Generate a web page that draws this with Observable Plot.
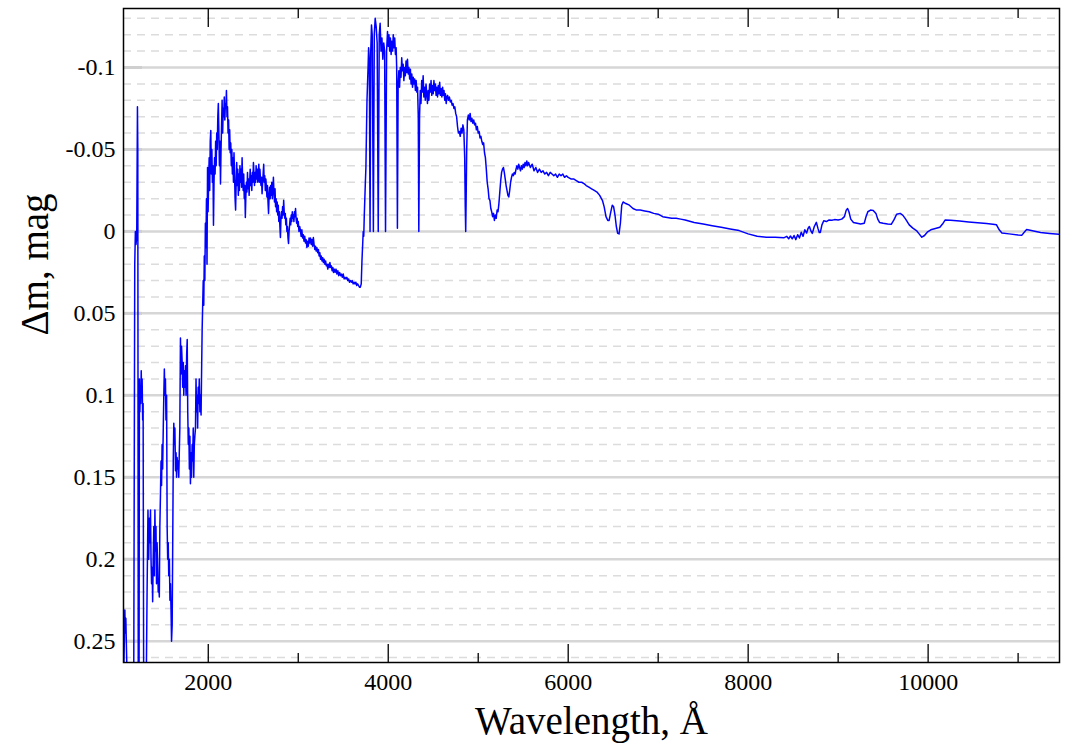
<!DOCTYPE html>
<html><head><meta charset="utf-8">
<script src="https://cdn.jsdelivr.net/npm/d3@7"></script>
<script src="https://cdn.jsdelivr.net/npm/@observablehq/plot@0.6"></script>
<style>body{margin:0;background:#fff}</style>
</head><body><div id="chart"></div>
<script>
// Wavelength (Å) and Δm (mag), in segments
const wlUV = [1060,1068,1073,1078,1084,1090,1097,1172,1183,1190,1197,1205,1213,1217,1222,1231,1235,1240,1245,1250,1255,1260,1265,1271,1276,1282,1312];
const dmUV = [0.27,0.248,0.231,0.245,0.236,0.252,0.27,0.27,0.02,0.0,0.008,0.003,-0.076,-0.05,0.27,0.27,0.09,0.11,0.095,0.105,0.085,0.1,0.09,0.115,0.105,0.27,0.27];

const wlFUV = [
1320,1330,1338,1346,1352,1358,1364,1370,1376,1382,
1388,1395,1401,1407,1413,1419,1425,1431,1438,1444,
1450,1456,1462,1469,1475,1481,1487,1493,1500,1506,
1512,1518,1524,1530,1537,1543,1549,1555,1561,1568,
1574,1580,1586,1592,1599,1605,1611,1617,1623,1629,
1636,1642,1648,1654,1660,1666,1672,1678,1684,1691,
1697,1703,1710,1716,1722,1728,1734,1740,1747,1753,
1760,1766,1772,1778,1784,1790,1796,1802,1808,1814,
1821,1827,1833,1839,1845,1851,1858,1864,1870,1876,
1882,1888,1894,1900,1907,1914,1920,1926,1932,1938,
1944,1950,1956,1962,1968,1974,1980];
const dmFUV = [
0.22,0.17,0.2,0.175,0.19,0.17,0.2,0.215,0.205,0.226,
0.2,0.18,0.21,0.17,0.195,0.18,0.215,0.19,0.205,0.22,
0.215,0.223,0.18,0.16,0.14,0.155,0.13,0.145,0.12,0.1,
0.084,0.1,0.09,0.115,0.1,0.18,0.2,0.19,0.21,0.2,
0.225,0.215,0.23,0.25,0.24,0.19,0.14,0.117,0.13,0.12,
0.146,0.135,0.15,0.138,0.145,0.14,0.15,0.135,0.12,0.065,
0.087,0.07,0.08,0.095,0.08,0.1,0.085,0.095,0.082,0.1,
0.075,0.066,0.11,0.13,0.12,0.145,0.125,0.154,0.135,0.15,
0.13,0.14,0.12,0.15,0.13,0.125,0.12,0.09,0.11,0.1,
0.12,0.095,0.105,0.09,0.11,0.1,0.112,0.085,0.06,0.045,
0.03,0.045,0.015,0.03,-0.005,0.01,-0.02];

const wlNUV = [
1986,1992,1998,2004,2010,2016,2022,2028,2034,2040,
2046,2052,2058,2064,2070,2076,2082,2088,2094,2100,
2106,2112,2118,2124,2130,2136,2142,2148,2154,2160,
2166,2172,2178,2184,2190,2196,2202,2208,2214,2220,
2226,2232,2238,2244,2250,2256,2262,2268,2274,2280,
2286,2292,2298,2304,2310,2316,2322,2328,2334,2340,
2346,2352,2358,2364,2370,2376,2382,2388,2394,2400,
2406,2412,2418,2424,2430,2436,2442,2448,2454,2460,
2466,2472,2478,2484,2490,2496,2502,2508,2514,2520,
2526,2532,2538,2544,2550,2556,2562,2568,2574,2580,
2586,2592,2598,2604,2610,2616,2622,2628,2634,2640,
2646,2652,2658,2664,2670,2676,2682,2688,2694,2700,
2706,2712,2718,2724,2730,2736,2742,2748,2754,2760,
2766,2772,2778,2784,2790,2796,2802,2808,2814,2820,
2826,2832,2838,2844,2850,2856,2862,2868,2874,2880,
2886,2892,2898,2904,2910,2916,2922,2928,2934,2940,
2946,2952,2958,2964,2970,2976,2982,2988,2994,3000];
const dmNUV = [
0.02,-0.039,-0.012,-0.03,-0.045,-0.025,-0.055,-0.0616,-0.035,-0.05,
-0.03,-0.04,-0.0037,-0.03,-0.045,-0.035,-0.055,-0.04,-0.06,-0.05,
-0.07,-0.078,-0.06,-0.04,-0.055,-0.029,-0.05,-0.065,-0.08,-0.06,
-0.075,-0.07,-0.082,-0.068,-0.078,-0.075,-0.086,-0.07,-0.076,-0.06,
-0.068,-0.05,-0.062,-0.048,-0.054,-0.04,-0.05,-0.035,-0.045,-0.03,
-0.048,-0.035,-0.02,-0.013,-0.03,-0.042,-0.028,-0.038,-0.022,-0.035,
-0.025,-0.04,-0.03,-0.038,-0.027,-0.045,-0.032,-0.025,-0.035,-0.02,
-0.028,-0.0085,-0.022,-0.03,-0.024,-0.036,-0.026,-0.032,-0.022,-0.03,
-0.038,-0.028,-0.034,-0.025,-0.036,-0.03,-0.042,-0.035,-0.028,-0.036,
-0.03,-0.04,-0.032,-0.038,-0.03,-0.036,-0.041,-0.03,-0.038,-0.032,
-0.028,-0.033,-0.023,-0.03,-0.035,-0.041,-0.03,-0.034,-0.025,-0.032,
-0.027,-0.021,-0.028,-0.018,-0.011,-0.022,-0.027,-0.02,-0.028,-0.022,
-0.03,-0.02,-0.026,-0.033,-0.024,-0.018,-0.026,-0.015,-0.02,-0.012,
-0.018,-0.01,-0.016,-0.006,-0.012,-0.003,0.0037,-0.008,-0.012,-0.008,
-0.015,-0.01,-0.019,-0.012,-0.008,-0.011,-0.004,-0.008,0.0,-0.003,
0.004,0.0073,0.0,-0.004,-0.008,-0.004,-0.01,-0.006,-0.012,-0.008,
-0.01,-0.006,-0.012,-0.009,-0.014,-0.008,-0.005,-0.008,-0.003,-0.006];

const wlBlue = [
3008,3016,3024,3032,3040,3048,3056,3064,3072,3080,
3088,3096,3104,3112,3120,3128,3136,3144,3152,3160,
3168,3176,3184,3192,3200,3208,3216,3224,3232,3240,
3248,3256,3264,3272,3280,3288,3296,3304,3312,3320,
3328,3336,3344,3352,3360,3368,3376,3384,3392,3400,
3410,3420,3430,3440,3450,3460,3470,3480,3490,3500,
3510,3520,3530,3540,3550,3560,3570,3580,3590,3600,
3610,3620,3630,3640,3650,3660,3670,3680,3690,3700];
const dmBlue = [
0.0,-0.003,-0.0006,0.003,-0.001,0.004,0.002,0.006,0.003,0.007,
0.005,0.0098,0.006,0.009,0.004,0.007,0.004,0.008,0.005,0.009,
0.0037,0.008,0.011,0.009,0.012,0.01,0.013,0.011,0.015,0.013,
0.017,0.015,0.018,0.016,0.019,0.017,0.02,0.018,0.021,0.02,
0.023,0.02,0.022,0.019,0.022,0.021,0.024,0.022,0.025,0.023,
0.025,0.023,0.026,0.024,0.027,0.025,0.027,0.026,0.028,0.026,
0.029,0.028,0.029,0.028,0.03,0.029,0.031,0.03,0.031,0.03,
0.032,0.031,0.032,0.031,0.033,0.032,0.033,0.034,0.034,0.032];

const wlBalmer = [
3708,3716,3722,3728,3734,3740,3746,3752,3758,3764,
3770,3776,3782,3790,3798,3806,3814,3822,3835,3845,
3855,3866,3877,3889,3900,3910,3920,3930,3940,3950,
3960,3970,3982,3992,4000,4008,4016,4024,4032,4040,
4048,4056,4064,4072,4080,4088,4094,4102,4110,4118,
4126,4134,4142,4150,4158,4166,4174,4182,4190,4198,
4206,4214,4222,4230,4238,4246,4254,4262,4270,4278,
4286,4294,4302,4310,4318,4326,4334,4340,4348,4356];
const dmBalmer = [
0.018,0.008,0.0,0.003,-0.01,-0.02,-0.03,-0.039,-0.06,-0.08,
-0.09,-0.1,-0.112,-0.105,0.0,-0.11,-0.126,-0.12,0.0,-0.12,
-0.13,-0.125,-0.115,0.0,-0.12,-0.127,-0.11,-0.118,-0.105,-0.115,
-0.11,0.0,-0.11,-0.122,-0.113,-0.12,-0.11,-0.118,-0.108,-0.116,
-0.11,-0.12,-0.112,-0.118,-0.108,-0.112,-0.1,-0.002,-0.09,-0.098,
-0.088,-0.1,-0.094,-0.106,-0.098,-0.102,-0.092,-0.1,-0.095,-0.104,
-0.097,-0.105,-0.096,-0.1,-0.093,-0.099,-0.09,-0.096,-0.088,-0.094,
-0.09,-0.093,-0.086,-0.092,-0.085,-0.088,-0.07,0.0,-0.07,-0.086];

const wlGreen = [
4364,4372,4380,4388,4396,4404,4412,4420,4428,4436,
4444,4452,4460,4468,4476,4484,4492,4500,4508,4516,
4524,4532,4540,4548,4556,4564,4572,4580,4588,4596,
4604,4612,4620,4628,4636,4644,4652,4660,4670,4680,
4690,4700,4710,4720,4730,4740,4750,4760,4770,4780,
4790,4800,4810,4820,4830,4840,4850,4856,4861,4866,
4872,4880,4890,4900,4910,4920,4930,4940,4950,4960,
4970,4980,4990,5000,5010,5020,5030,5040,5050,5060,
5070,5080,5090,5100,5110,5120,5130,5140,5150,5160];
const dmGreen = [
-0.078,-0.092,-0.085,-0.095,-0.082,-0.088,-0.08,-0.09,-0.084,-0.078,
-0.086,-0.08,-0.09,-0.085,-0.092,-0.083,-0.089,-0.084,-0.092,-0.086,
-0.09,-0.083,-0.088,-0.082,-0.089,-0.084,-0.091,-0.083,-0.087,-0.082,
-0.088,-0.083,-0.086,-0.08,-0.084,-0.078,-0.082,-0.083,-0.08,-0.082,
-0.079,-0.08,-0.077,-0.078,-0.075,-0.076,-0.072,-0.07,-0.064,-0.06,
-0.061,-0.058,-0.063,-0.06,-0.065,-0.062,-0.045,-0.015,0.0,-0.02,
-0.05,-0.068,-0.071,-0.068,-0.072,-0.067,-0.069,-0.066,-0.068,-0.065,
-0.066,-0.062,-0.064,-0.06,-0.061,-0.057,-0.058,-0.055,-0.053,-0.054,
-0.048,-0.045,-0.038,-0.03,-0.026,-0.02,-0.019,-0.014,-0.012,-0.009];

const wlRed = [
5170,5180,5190,5200,5210,5220,5230,5240,5250,5260,
5270,5280,5290,5300,5310,5320,5330,5340,5350,5360,
5370,5380,5390,5400,5410,5420,5430,5440,5450,5460,
5470,5480,5490,5500,5510,5520,5530,5540,5550,5560,
5580,5600,5620,5640,5660,5680,5700,5720,5740,5760,
5780,5800,5820,5840,5860,5880,5900,5920,5940,5960,
5980,6000,6030,6060,6090,6120,6150,6180,6200,6230,
6260,6290,6320,6350,6380,6400,6420,6440,6455,6470,
6490,6505,6520,6535,6550,6565,6580,6595,6610,6640,
6680,6720,6760,6800,6850,6900,6950,7000,7050,7100];
const dmRed = [
-0.011,-0.0067,-0.01,-0.008,-0.013,-0.012,-0.017,-0.024,-0.031,-0.036,
-0.038,-0.039,-0.036,-0.032,-0.028,-0.025,-0.022,-0.021,-0.025,-0.03,
-0.033,-0.035,-0.034,-0.036,-0.035,-0.038,-0.04,-0.038,-0.041,-0.039,
-0.037,-0.04,-0.038,-0.041,-0.039,-0.042,-0.04,-0.043,-0.04,-0.042,
-0.039,-0.041,-0.037,-0.039,-0.036,-0.038,-0.036,-0.037,-0.035,-0.036,
-0.034,-0.036,-0.035,-0.034,-0.035,-0.033,-0.035,-0.034,-0.035,-0.033,
-0.034,-0.033,-0.032,-0.032,-0.031,-0.03,-0.03,-0.029,-0.028,-0.027,
-0.026,-0.025,-0.024,-0.022,-0.019,-0.015,-0.009,-0.0067,-0.0067,-0.011,
-0.016,-0.015,-0.01,-0.003,0.0012,0.0015,-0.005,-0.016,-0.018,-0.017,
-0.016,-0.014,-0.013,-0.013,-0.0125,-0.012,-0.011,-0.0105,-0.009,-0.0085];

const wlIR = [
7150,7200,7250,7300,7400,7500,7600,7700,7800,7900,
8000,8100,8200,8300,8400,8430,8450,8470,8490,8510,
8530,8550,8570,8590,8610,8630,8650,8665,8680,8700,
8713,8735,8758,8775,8790,8802,8820,8840,8870,8900,
8930,8960,9000,9040,9070,9090,9105,9120,9140,9170,
9210,9250,9290,9310,9330,9360,9390,9420,9440,9460,
9500,9550,9590,9620,9650,9690,9720,9750,9790,9830,
9870,9900,9930,9960,9990,10030,10080,10130,10160,10190,
10250,10350,10450,10550,10650,10720,10760,10790,10820,10900,
11000,11040,11075,11095,11250,11350,11460];
const dmIR = [
-0.008,-0.008,-0.0075,-0.007,-0.0055,-0.0045,-0.0035,-0.0025,-0.0015,-0.0005,
0.0015,0.003,0.0035,0.0035,0.0038,0.003,0.0045,0.0028,0.0045,0.0025,
0.005,0.002,0.004,0.0005,0.003,-0.001,0.001,-0.0018,-0.003,0.0,
0.0012,-0.003,-0.0055,-0.002,0.0006,0.0006,-0.004,-0.0065,-0.006,-0.007,
-0.0068,-0.0072,-0.007,-0.0075,-0.009,-0.013,-0.014,-0.012,-0.0075,-0.0055,
-0.005,-0.0045,-0.005,-0.009,-0.012,-0.013,-0.0128,-0.011,-0.0075,-0.0055,
-0.005,-0.0045,-0.0043,-0.007,-0.0105,-0.011,-0.0098,-0.0075,-0.004,-0.002,
-0.0005,0.0015,0.0035,0.0025,0.0005,-0.001,-0.0018,-0.0025,-0.0045,-0.007,
-0.0068,-0.0063,-0.0058,-0.0053,-0.0048,-0.0044,-0.004,-0.001,0.001,0.0015,
0.0022,0.0024,0.0,-0.0012,0.0006,0.0012,0.0018];

const xTicksMajor = [2000, 4000, 6000, 8000, 10000];
const xTicksMinor = [3000, 5000, 7000, 9000, 11000];
const yTicksMajor = [-0.1, -0.05, 0, 0.05, 0.1, 0.15, 0.2, 0.25];
const yGridMinor = [-0.13,-0.12,-0.11,-0.09,-0.08,-0.07,-0.06,-0.04,-0.03,-0.02,-0.01,
  0.01,0.02,0.03,0.04,0.06,0.07,0.08,0.09,0.11,0.12,0.13,0.14,0.16,0.17,0.18,0.19,
  0.21,0.22,0.23,0.24,0.26];
const xLabel = "Wavelength, Å";
const yLabel = "Δm, mag";

const wl = [].concat(wlUV, wlFUV, wlNUV, wlBlue, wlBalmer, wlGreen, wlRed, wlIR);
const dm = [].concat(dmUV, dmFUV, dmNUV, dmBlue, dmBalmer, dmGreen, dmRed, dmIR);
const data = wl.map((w, i) => ({w, m: dm[i]}));

const chart = Plot.plot({
  width: 1067,
  height: 744,
  marginLeft: 123,
  marginRight: 8,
  marginTop: 8,
  marginBottom: 82,
  style: {fontFamily: "'Liberation Serif', 'Times New Roman', serif", fontSize: "24px", background: "#fff", color: "#000"},
  x: {domain: [1058, 11460]},
  y: {domain: [-0.136, 0.263], reverse: true},
  marks: [
    Plot.ruleY(yGridMinor, {stroke: "#dcdcdc", strokeWidth: 1.5, strokeDasharray: "8,6"}),
    Plot.ruleY(yTicksMajor, {stroke: "#d6d6d6", strokeWidth: 2.5}),
    Plot.axisY({ticks: yTicksMajor, tickSize: -19, stroke: "#cfcfcf", strokeWidth: 3, tickFormat: () => "", label: null}),
    Plot.line(data, {x: "w", y: "m", stroke: "#0000ff", strokeWidth: 1.5, clip: true}),
    Plot.frame({stroke: "#000", strokeWidth: 1.5}),
    Plot.axisX({ticks: xTicksMajor, anchor: "bottom", tickSize: -18, strokeWidth: 1.3, tickFormat: () => "", label: null}),
    Plot.axisX({ticks: xTicksMinor, anchor: "bottom", tickSize: -9, strokeWidth: 1.3, tickFormat: () => "", label: null}),
    Plot.axisX({ticks: xTicksMajor, anchor: "top", tickSize: -18, strokeWidth: 1.3, tickFormat: () => "", label: null}),
    Plot.axisX({ticks: xTicksMinor, anchor: "top", tickSize: -9, strokeWidth: 1.3, tickFormat: () => "", label: null}),
    Plot.axisX({ticks: xTicksMajor, anchor: "bottom", tickSize: 0, tickPadding: 10, fontSize: 24, tickFormat: d => String(d), label: null}),
    Plot.axisY({ticks: yTicksMajor, anchor: "left", tickSize: 0, tickPadding: 8, fontSize: 24, tickFormat: d => String(d), label: null}),
    Plot.text([xLabel], {text: d => d, frameAnchor: "bottom", dy: 71, lineAnchor: "bottom", fontSize: 39}),
    Plot.text([yLabel], {text: d => d, frameAnchor: "left", dx: -88, rotate: -90, fontSize: 39})
  ]
});
document.getElementById("chart").appendChild(chart);
</script>
</body></html>
